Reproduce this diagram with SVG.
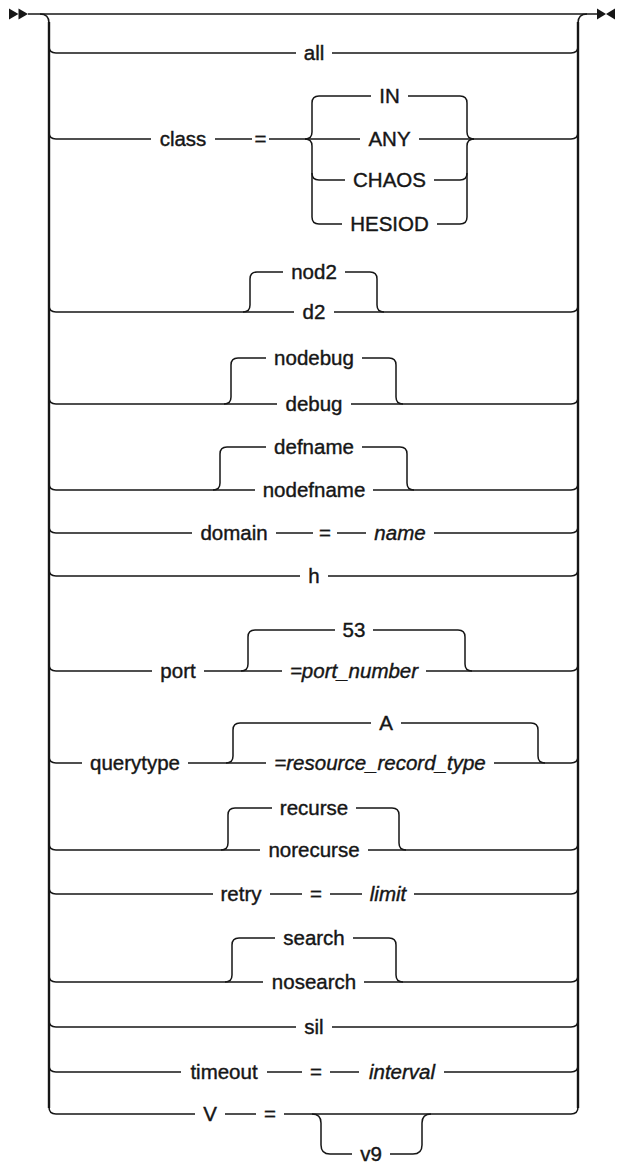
<svg xmlns="http://www.w3.org/2000/svg" width="618" height="1163" viewBox="0 0 618 1163">
<style>
.l{fill:none;stroke:#161616;stroke-width:1.5;stroke-linecap:butt}
.b{fill:none;stroke:#161616;stroke-width:2.4}
text{font-family:"Liberation Sans",Arial,sans-serif;font-size:20.5px;fill:#161616;stroke:#161616;stroke-width:0.4;text-anchor:middle}
.i{font-style:italic}
.m{fill:#161616}
</style>
<rect width="618" height="1163" fill="#ffffff"/>
<g id="markers">
<polygon class="m" points="9,8.5 18.5,14 9,19.5"/>
<polygon class="m" points="18.5,8.5 28,14 18.5,19.5"/>
<polygon class="m" points="597,8.5 606,14 597,19.5"/>
<polygon class="m" points="615,8.5 606,14 615,19.5"/>
</g>
<g id="connectors">
<path class="l" d="M28,14 H597"/>
<path class="l" d="M40,14 Q49,14 49,23"/>
<path class="l" d="M578,23 Q578,14 587,14"/>
<path class="b" d="M49,22 V1108"/>
<path class="b" d="M578,22 V1108"/>
<!-- all -->
<path class="l" d="M49,46 Q49,53 56,53 H296"/>
<path class="l" d="M332,53 H571 Q578,53 578,46"/>
<!-- class -->
<path class="l" d="M49,132 Q49,139 56,139 H151"/>
<path class="l" d="M215,139 H252"/>
<path class="l" d="M269,139 H360"/>
<path class="l" d="M305,139 Q312,139 312,132 V103 Q312,96 319,96 H371"/>
<path class="l" d="M305,139 Q312,139 312,146 V217 Q312,224 319,224 H342"/>
<path class="l" d="M312,173 Q312,180 319,180 H345"/>
<path class="l" d="M408,96 H460 Q467,96 467,103 V132 Q467,139 474,139"/>
<path class="l" d="M437,224 H460 Q467,224 467,217 V146 Q467,139 474,139"/>
<path class="l" d="M434,180 H460 Q467,180 467,173"/>
<path class="l" d="M419,139 H571 Q578,139 578,132"/>
<!-- nod2 / d2 -->
<path class="l" d="M49,305 Q49,312 56,312 H294"/>
<path class="l" d="M334,312 H571 Q578,312 578,305"/>
<path class="l" d="M243,312 Q250,312 250,305 V279 Q250,272 257,272 H283"/>
<path class="l" d="M345,272 H370 Q377,272 377,279 V305 Q377,312 384,312"/>
<!-- nodebug / debug -->
<path class="l" d="M49,397 Q49,404 56,404 H277"/>
<path class="l" d="M351,404 H571 Q578,404 578,397"/>
<path class="l" d="M224,404 Q231,404 231,397 V365 Q231,358 238,358 H266"/>
<path class="l" d="M362,358 H389 Q396,358 396,365 V397 Q396,404 403,404"/>
<!-- defname / nodefname -->
<path class="l" d="M49,483 Q49,490 56,490 H255"/>
<path class="l" d="M373,490 H571 Q578,490 578,483"/>
<path class="l" d="M213,490 Q220,490 220,483 V454 Q220,447 227,447 H266"/>
<path class="l" d="M362,447 H400 Q407,447 407,454 V483 Q407,490 414,490"/>
<!-- domain -->
<path class="l" d="M49,526 Q49,533 56,533 H192"/>
<path class="l" d="M276,533 H313"/>
<path class="l" d="M337,533 H366"/>
<path class="l" d="M434,533 H571 Q578,533 578,526"/>
<!-- h -->
<path class="l" d="M49,569 Q49,576 56,576 H300"/>
<path class="l" d="M328,576 H571 Q578,576 578,569"/>
<!-- port -->
<path class="l" d="M49,664 Q49,671 56,671 H152"/>
<path class="l" d="M204,671 H282"/>
<path class="l" d="M426,671 H571 Q578,671 578,664"/>
<path class="l" d="M241,671 Q248,671 248,664 V637 Q248,630 255,630 H335"/>
<path class="l" d="M373,630 H458 Q465,630 465,637 V664 Q465,671 472,671"/>
<!-- querytype -->
<path class="l" d="M49,756 Q49,763 56,763 H82"/>
<path class="l" d="M188,763 H266"/>
<path class="l" d="M494,763 H571 Q578,763 578,756"/>
<path class="l" d="M226,763 Q233,763 233,756 V730 Q233,723 240,723 H371"/>
<path class="l" d="M401,723 H531 Q538,723 538,730 V756 Q538,763 545,763"/>
<!-- recurse / norecurse -->
<path class="l" d="M49,843 Q49,850 56,850 H260"/>
<path class="l" d="M368,850 H571 Q578,850 578,843"/>
<path class="l" d="M221,850 Q228,850 228,843 V815 Q228,808 235,808 H272"/>
<path class="l" d="M356,808 H392 Q399,808 399,815 V843 Q399,850 406,850"/>
<!-- retry -->
<path class="l" d="M49,887 Q49,894 56,894 H213"/>
<path class="l" d="M270,894 H302"/>
<path class="l" d="M330,894 H362"/>
<path class="l" d="M414,894 H571 Q578,894 578,887"/>
<!-- search / nosearch -->
<path class="l" d="M49,975 Q49,982 56,982 H263"/>
<path class="l" d="M364,982 H571 Q578,982 578,975"/>
<path class="l" d="M225,982 Q232,982 232,975 V945 Q232,938 239,938 H275"/>
<path class="l" d="M353,938 H389 Q396,938 396,945 V975 Q396,982 403,982"/>
<!-- sil -->
<path class="l" d="M49,1020 Q49,1027 56,1027 H296"/>
<path class="l" d="M332,1027 H571 Q578,1027 578,1020"/>
<!-- timeout -->
<path class="l" d="M49,1065 Q49,1072 56,1072 H181"/>
<path class="l" d="M267,1072 H302"/>
<path class="l" d="M330,1072 H359"/>
<path class="l" d="M444,1072 H571 Q578,1072 578,1065"/>
<!-- V -->
<path class="l" d="M49,1107 Q49,1114 56,1114 H195"/>
<path class="l" d="M225,1114 H256"/>
<path class="l" d="M284,1114 H571 Q578,1114 578,1107"/>
<path class="l" d="M312,1114 Q321,1114 321,1123 V1145 Q321,1154 330,1154 H352"/>
<path class="l" d="M390,1154 H413 Q422,1154 422,1145 V1123 Q422,1114 431,1114"/>
</g>
<g id="n-all"><text x="314" y="60">all</text></g>
<g id="n-class"><text x="183" y="146">class</text><text x="260.5" y="146">=</text></g>
<g id="n-IN"><text x="389.5" y="103">IN</text></g>
<g id="n-ANY"><text x="389.5" y="146">ANY</text></g>
<g id="n-CHAOS"><text x="389.5" y="187">CHAOS</text></g>
<g id="n-HESIOD"><text x="389.5" y="231">HESIOD</text></g>
<g id="n-nod2"><text x="314" y="279">nod2</text></g>
<g id="n-d2"><text x="314" y="319">d2</text></g>
<g id="n-nodebug"><text x="314" y="365">nodebug</text></g>
<g id="n-debug"><text x="314" y="411">debug</text></g>
<g id="n-defname"><text x="314" y="454">defname</text></g>
<g id="n-nodefname"><text x="314" y="497">nodefname</text></g>
<g id="n-domain"><text x="234" y="540">domain</text><text x="325" y="540">=</text><text class="i" x="400" y="540">name</text></g>
<g id="n-h"><text x="314" y="583">h</text></g>
<g id="n-port"><text x="178" y="678">port</text></g>
<g id="n-53"><text x="354" y="637">53</text></g>
<g id="n-port_number"><text class="i" x="354" y="678">=port_number</text></g>
<g id="n-querytype"><text x="135" y="770">querytype</text></g>
<g id="n-A"><text x="386" y="730">A</text></g>
<g id="n-rrt"><text class="i" x="380" y="770">=resource_record_type</text></g>
<g id="n-recurse"><text x="314" y="815">recurse</text></g>
<g id="n-norecurse"><text x="314" y="857">norecurse</text></g>
<g id="n-retry"><text x="241" y="901">retry</text><text x="316" y="901">=</text><text class="i" x="388" y="901">limit</text></g>
<g id="n-search"><text x="314" y="945">search</text></g>
<g id="n-nosearch"><text x="314" y="989">nosearch</text></g>
<g id="n-sil"><text x="314" y="1034">sil</text></g>
<g id="n-timeout"><text x="224" y="1079">timeout</text><text x="316" y="1079">=</text><text class="i" x="402" y="1079">interval</text></g>
<g id="n-V"><text x="210" y="1121">V</text><text x="270" y="1121">=</text></g>
<g id="n-v9"><text x="371" y="1161">v9</text></g>
</svg>
